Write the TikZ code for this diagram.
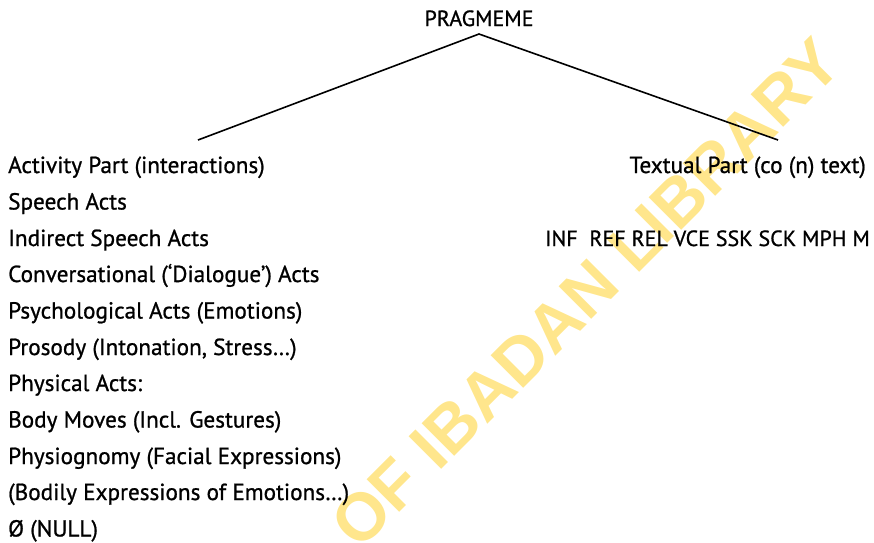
\documentclass[tikz,border=0pt]{standalone}
\usepackage{fontspec}
\setmainfont{PT Sans}[FakeBold=0.9]
\newfontfamily\wmfont{Liberation Sans}
\definecolor{wmyellow}{RGB}{255,230,140}
\begin{document}
\begin{tikzpicture}[x=1pt,y=-1pt,
  item/.style={anchor=base west,inner sep=0pt,font=\fontsize{23.2}{26}\selectfont},
  ritem/.style={anchor=base east,inner sep=0pt,font=\fontsize{23.2}{26}\selectfont},
  branch/.style={line width=1.6pt}]
\useasboundingbox (0,0) rectangle (874,542);
\clip (0,0) rectangle (874,542);
% watermark
\node[rotate=45,text=wmyellow,font=\wmfont\bfseries\fontsize{67}{67}\selectfont,inner sep=0pt] (wm) at (586,293) {OF IBADAN LIBRARY};
% root
\node[anchor=base,inner sep=0pt,font=\fontsize{22}{26}\selectfont] (root) at (479,26) {PRAGMEME};
\coordinate (apex) at (479,34);
\coordinate (lend) at (198,140);
\coordinate (rend) at (778,140);
\draw[branch] (lend) -- (apex) -- (rend);
% left column
\node[item] (l1) at (8,173) {Activity Part (interactions)};
\node[item] (l2) at (8,209.5) {Speech Acts};
\node[item] (l3) at (8,246) {Indirect Speech Acts};
\node[item] (l4) at (8,282) {Conversational (‘Dialogue’) Acts};
\node[item] (l5) at (8,318.5) {Psychological Acts (Emotions)};
\node[item] (l6) at (8,355) {Prosody (Intonation, Stress…)};
\node[item] (l7) at (8,391) {Physical Acts:};
\node[item] (l8) at (8,427.5) {Body Moves (Incl. Gestures)};
\node[item] (l9) at (8,464) {Physiognomy (Facial Expressions)};
\node[item] (l10) at (8,500) {(Bodily Expressions of Emotions…)};
\node[item] (l11) at (8,536.5) {Ø (NULL)};
% right column
\node[ritem] (r1) at (866,173) {Textual Part (co (n) text)};
\node[ritem,font=\fontsize{22}{26}\selectfont] (r2) at (870,246) {INF\ \ REF REL VCE SSK SCK MPH M};
\end{tikzpicture}
\end{document}
